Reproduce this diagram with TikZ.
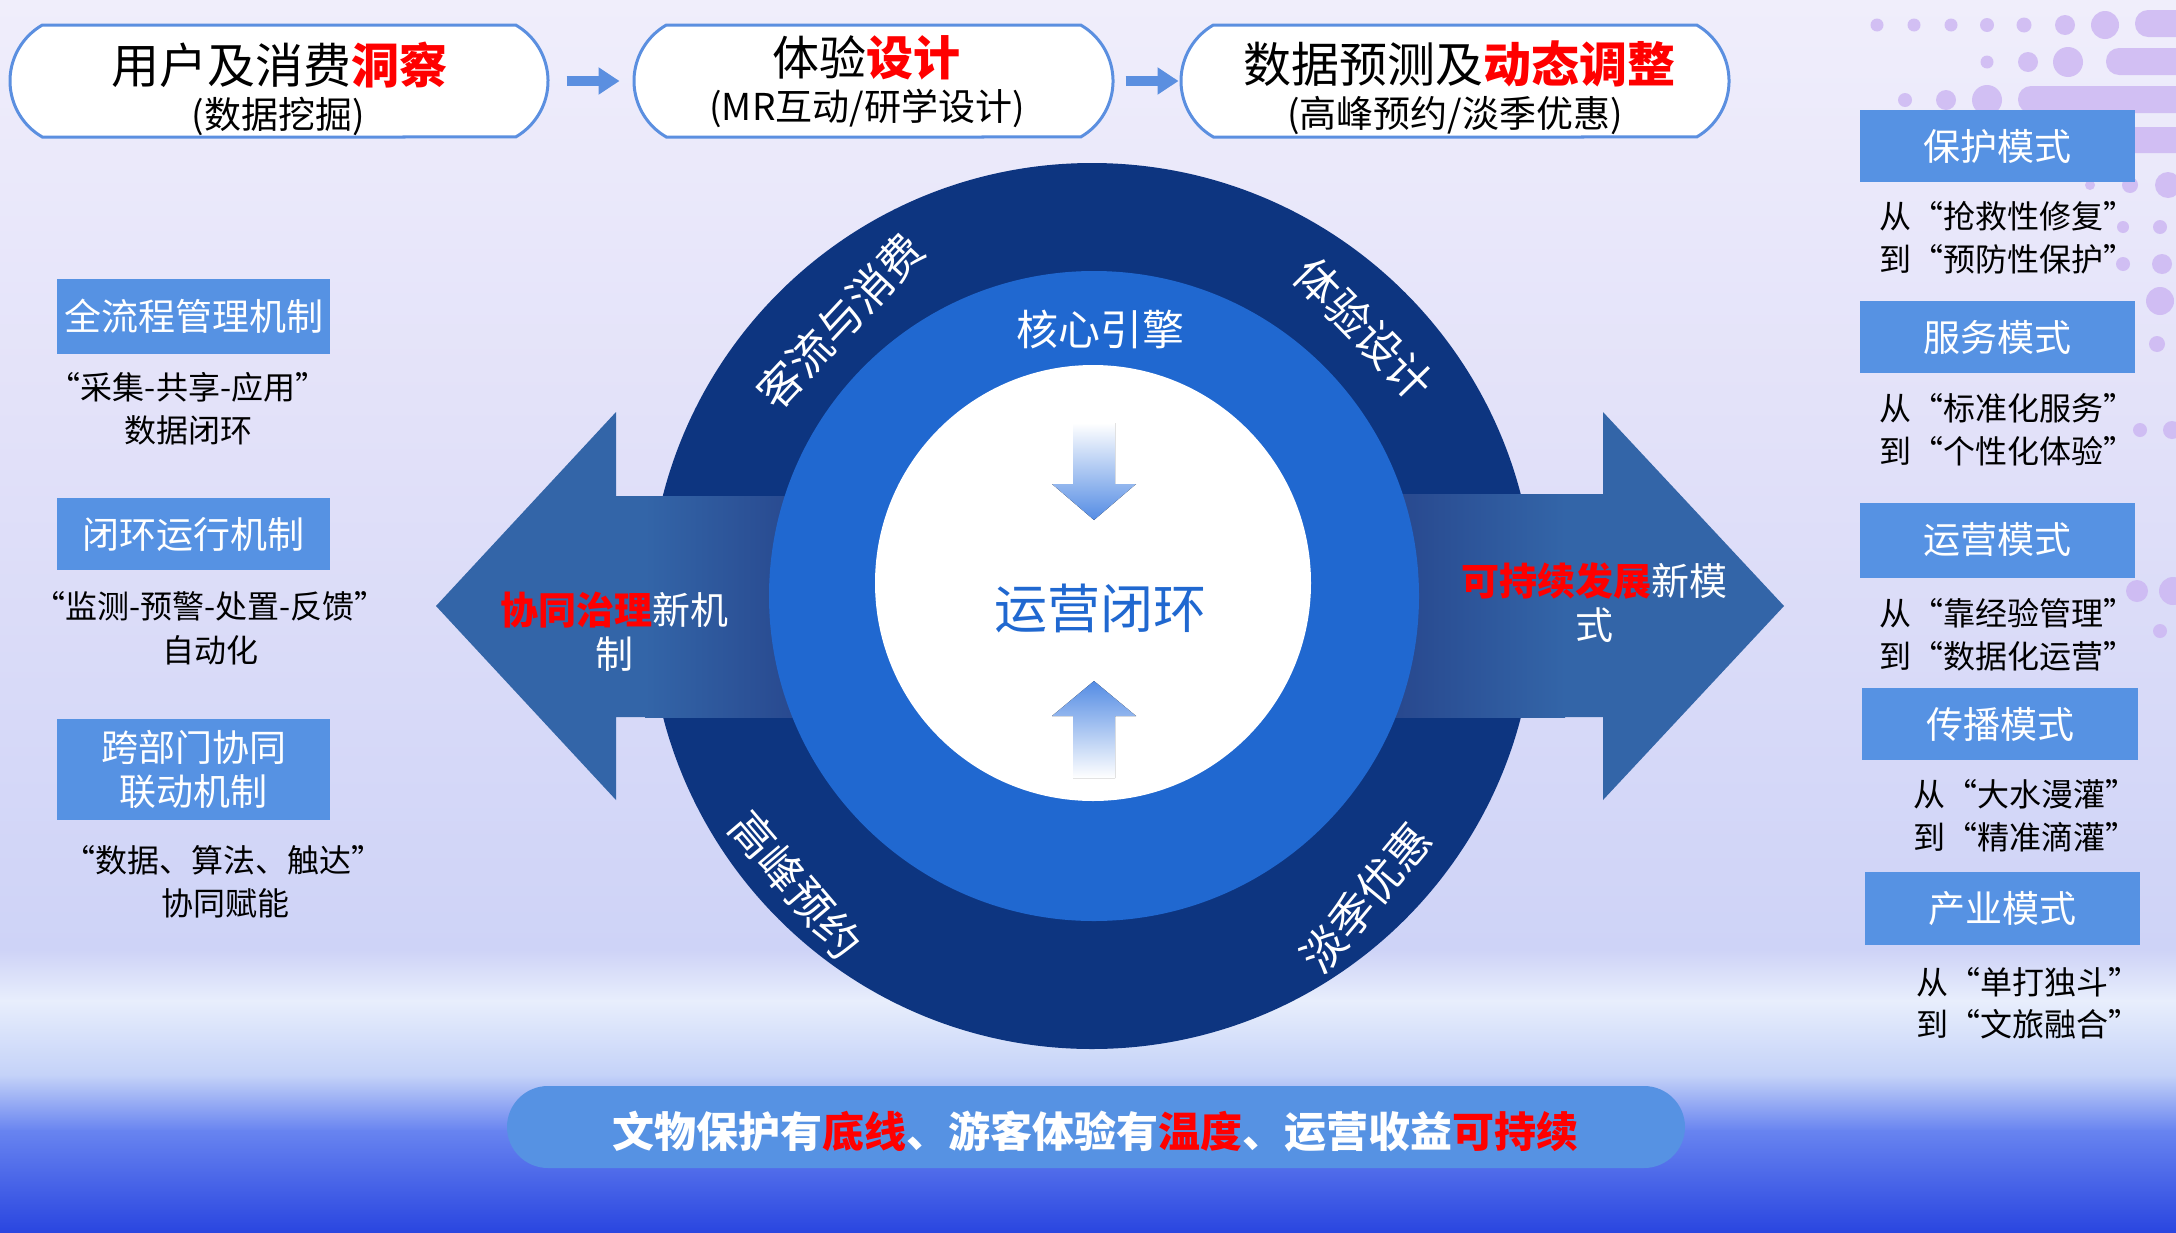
\documentclass[tikz,border=0pt]{standalone}
\usepackage{fontspec}
\setmainfont{Noto Sans CJK SC}
\usetikzlibrary{arrows.meta,shapes.misc}
\definecolor{boxblue}{RGB}{86,146,227}
\definecolor{navyring}{RGB}{13,53,128}
\definecolor{midring}{RGB}{32,104,208}
\definecolor{arrblue}{RGB}{51,101,168}
\definecolor{topline}{RGB}{91,143,224}
\definecolor{dotc}{RGB}{203,180,242}
\definecolor{redtxt}{RGB}{255,0,0}
\definecolor{bgA}{RGB}{240,238,251}
\definecolor{bgB}{RGB}{226,225,249}
\definecolor{bgC}{RGB}{206,211,247}
\definecolor{bgD}{RGB}{232,238,252}
\definecolor{bgE}{RGB}{196,210,248}
\definecolor{bgF}{RGB}{104,132,240}
\definecolor{bgG}{RGB}{42,70,224}
\definecolor{shaftlight}{RGB}{90,122,178}
\definecolor{shaftdark}{RGB}{40,72,142}
\definecolor{smallarr}{RGB}{84,140,228}
\newcommand{\fsz}[1]{\fontsize{#1}{#1}\selectfont}
\newcommand{\redb}[1]{{\bfseries\color{redtxt}#1}}
\tikzset{
  topbox/.style={draw=topline, line width=3, fill=white, shape=rounded rectangle,
    rounded rectangle arc length=120, inner sep=0, minimum height=112},
  sidebox/.style={fill=boxblue, inner sep=0, minimum width=273, text=white, font=\fsz{37}},
  txt/.style={inner sep=0, anchor=center},
  desc/.style={txt, font=\fsz{32}, text=black},
  rdesc/.style={inner sep=0, anchor=west, font=\fsz{32}, text=black},
  ringlbl/.style={txt, text=white, font=\fsz{44}},
  arrlbl/.style={txt, text=white, align=center, font=\fontsize{38}{44}\selectfont},
  flow/.style={draw=topline, line width=10, -{Triangle[length=21pt,width=26pt]}},
  deco/.style={fill=dotc, fill opacity=0.8}
}
\begin{document}
\begin{tikzpicture}[x=1pt,y=-1pt]
\useasboundingbox (0,0) rectangle (2176,1232);
\clip (0,0) rectangle (2176,1232);
% background
\fill[top color=bgA, bottom color=bgB] (0,0) rectangle (2176,431);
\fill[top color=bgB, bottom color=bgC] (0,430) rectangle (2176,951);
\fill[top color=bgC, bottom color=bgD] (0,950) rectangle (2176,1001);
\fill[top color=bgD, bottom color=bgE] (0,1000) rectangle (2176,1076);
\fill[top color=bgE, bottom color=bgF] (0,1075) rectangle (2176,1131);
\fill[top color=bgF, bottom color=bgG] (0,1130) rectangle (2176,1232);
% decorative dots
\foreach \x/\y/\r in {1877/25/6.5,1914/25/6.5,1951/25/6.5,1987/25/7,2024/25/7.5,2065/25/10,2105/25/14,
  1987/62/6.5,2028/62/10,2068/62/15,1905/100/7,1946/100/10,1987/100/15,
  2090/185/5,2130/185/8,2168/185/13,2123/227/6,2160/227/7,2123/264/7,2162/264/10,
  2160/301/14,2157/344/8,2140/430/7,2172/430/9,2137/591/11,2173/591/14,2160/631/7}
  \fill[deco] (\x,\y) circle[radius=\r];
\fill[deco, rounded corners=13] (2135,10) rectangle (2200,37);
\fill[deco, rounded corners=13] (2106,48) rectangle (2200,75);
\fill[deco, rounded corners=13] (2018,86) rectangle (2200,113);
\fill[deco, rounded corners=13] (2120,127) rectangle (2200,153);
% top flow boxes
\node[topbox, minimum width=538] (b1) at (279,81) {};
\node[topbox, minimum width=479] (b2) at (873.5,81) {};
\node[topbox, minimum width=548] (b3) at (1455,81) {};
\node[txt, font=\fsz{48}] (b1t) at (279,65) {用户及消费\redb{洞察}};
\node[txt, font=\fsz{37}] (b1s) at (278,116) {(数据挖掘)};
\node[txt, font=\fsz{47}] (b2t) at (866,58) {体验\redb{设计}};
\node[txt, font=\fsz{37}] (b2s) at (867,108) {(MR互动/研学设计)};
\node[txt, font=\fsz{48}] (b3t) at (1459,64) {数据预测及\redb{动态调整}};
\node[txt, font=\fsz{37}] (b3s) at (1455,116) {(高峰预约/淡季优惠)};
\draw[flow, shorten <=17pt, shorten >=13pt] (b1.east) -- (b2.west);
\draw[flow, shorten <=11pt, shorten >=1pt] (b2.east) -- (b3.west);
% central rings and arrows
\fill[navyring] (1092,606) circle[radius=443];
\fill[arrblue] (436,606) -- (616,412) -- (616,496) -- (650,496) -- (650,717) -- (616,717) -- (616,800) -- cycle;
\fill[left color=arrblue, middle color=shaftlight, right color=shaftdark] (645,496) rectangle (800,717);
\fill[arrblue] (1784,606) -- (1603,412) -- (1603,494) -- (1560,494) -- (1560,717) -- (1603,717) -- (1603,800) -- cycle;
\fill[left color=shaftdark, middle color=shaftlight, right color=arrblue] (1395,494) rectangle (1565,717);
\fill[midring] (1094,596) circle[radius=325];
\fill[white] (1093,583) circle[radius=218];
\fill[top color=white, bottom color=smallarr] (1073,423) -- (1115,423) -- (1115,484) -- (1136,484) -- (1094,520) -- (1052,484) -- (1073,484) -- cycle;
\fill[top color=smallarr, bottom color=white] (1094,681) -- (1136,716) -- (1115,716) -- (1115,778) -- (1073,778) -- (1073,716) -- (1052,716) -- cycle;
\node[txt, text=white, font=\fsz{42}] (core) at (1100,329) {核心引擎};
\node[txt, text=midring, font=\fsz{53}] (loop) at (1100,608) {运营闭环};
\node[ringlbl, rotate=47] (r1) at (840,321) {客流与消费};
\node[ringlbl, rotate=-45.6] (r2) at (1364,329) {体验设计};
\node[ringlbl, rotate=-49.6] (r3) at (796,885) {高峰预约};
\node[ringlbl, rotate=50.3] (r4) at (1366,898) {淡季优惠};
\node[arrlbl] (lal) at (614,632) {\redb{协同治理}新机\\制};
\node[arrlbl] (ral) at (1594,603) {\redb{可持续发展}新模\\式};
% left column
\node[sidebox, minimum height=75] (m1) at (193.5,316.5) {全流程管理机制};
\node[sidebox, minimum height=72] (m2) at (193.5,534) {闭环运行机制};
\node[sidebox, minimum height=101, align=center, font=\fontsize{37}{44}\selectfont] (m3) at (193.5,769.5) {跨部门协同\\联动机制};
\node[desc] (d1a) at (188,387) {“采集-共享-应用”};
\node[desc] (d1b) at (188,430) {数据闭环};
\node[desc] (d2a) at (210,606) {“监测-预警-处置-反馈”};
\node[desc] (d2b) at (210,650) {自动化};
\node[desc] (d3a) at (223,860) {“数据、算法、触达”};
\node[desc] (d3b) at (225,903) {协同赋能};
% right column
\node[sidebox, minimum width=275, minimum height=72] (p1) at (1997.5,146) {保护模式};
\node[sidebox, minimum width=275, minimum height=72] (p2) at (1997.5,337) {服务模式};
\node[sidebox, minimum width=275, minimum height=75] (p3) at (1997.5,540) {运营模式};
\node[sidebox, minimum width=276, minimum height=72] (p4) at (2000,724) {传播模式};
\node[sidebox, minimum width=275, minimum height=73] (p5) at (2002.5,908.5) {产业模式};
\node[rdesc] (q1a) at (1879,216) {从“抢救性修复”};
\node[rdesc] (q1b) at (1879,259) {到“预防性保护”};
\node[rdesc] (q2a) at (1879,408) {从“标准化服务”};
\node[rdesc] (q2b) at (1879,451) {到“个性化体验”};
\node[rdesc] (q3a) at (1879,613) {从“靠经验管理”};
\node[rdesc] (q3b) at (1879,656) {到“数据化运营”};
\node[rdesc] (q4a) at (1913,794) {从“大水漫灌”};
\node[rdesc] (q4b) at (1913,837) {到“精准滴灌”};
\node[rdesc] (q5a) at (1916,982) {从“单打独斗”};
\node[rdesc] (q5b) at (1916,1024) {到“文旅融合”};
% bottom banner
\node[shape=rounded rectangle, fill=boxblue, minimum width=1178, minimum height=82, inner sep=0] (banner) at (1096,1127) {};
\node[txt, text=white, font=\bfseries\fsz{42}] (slogan) at (1095,1132) {文物保护有\redb{底线}、游客体验有\redb{温度}、运营收益\redb{可持续}};
\end{tikzpicture}
\end{document}
